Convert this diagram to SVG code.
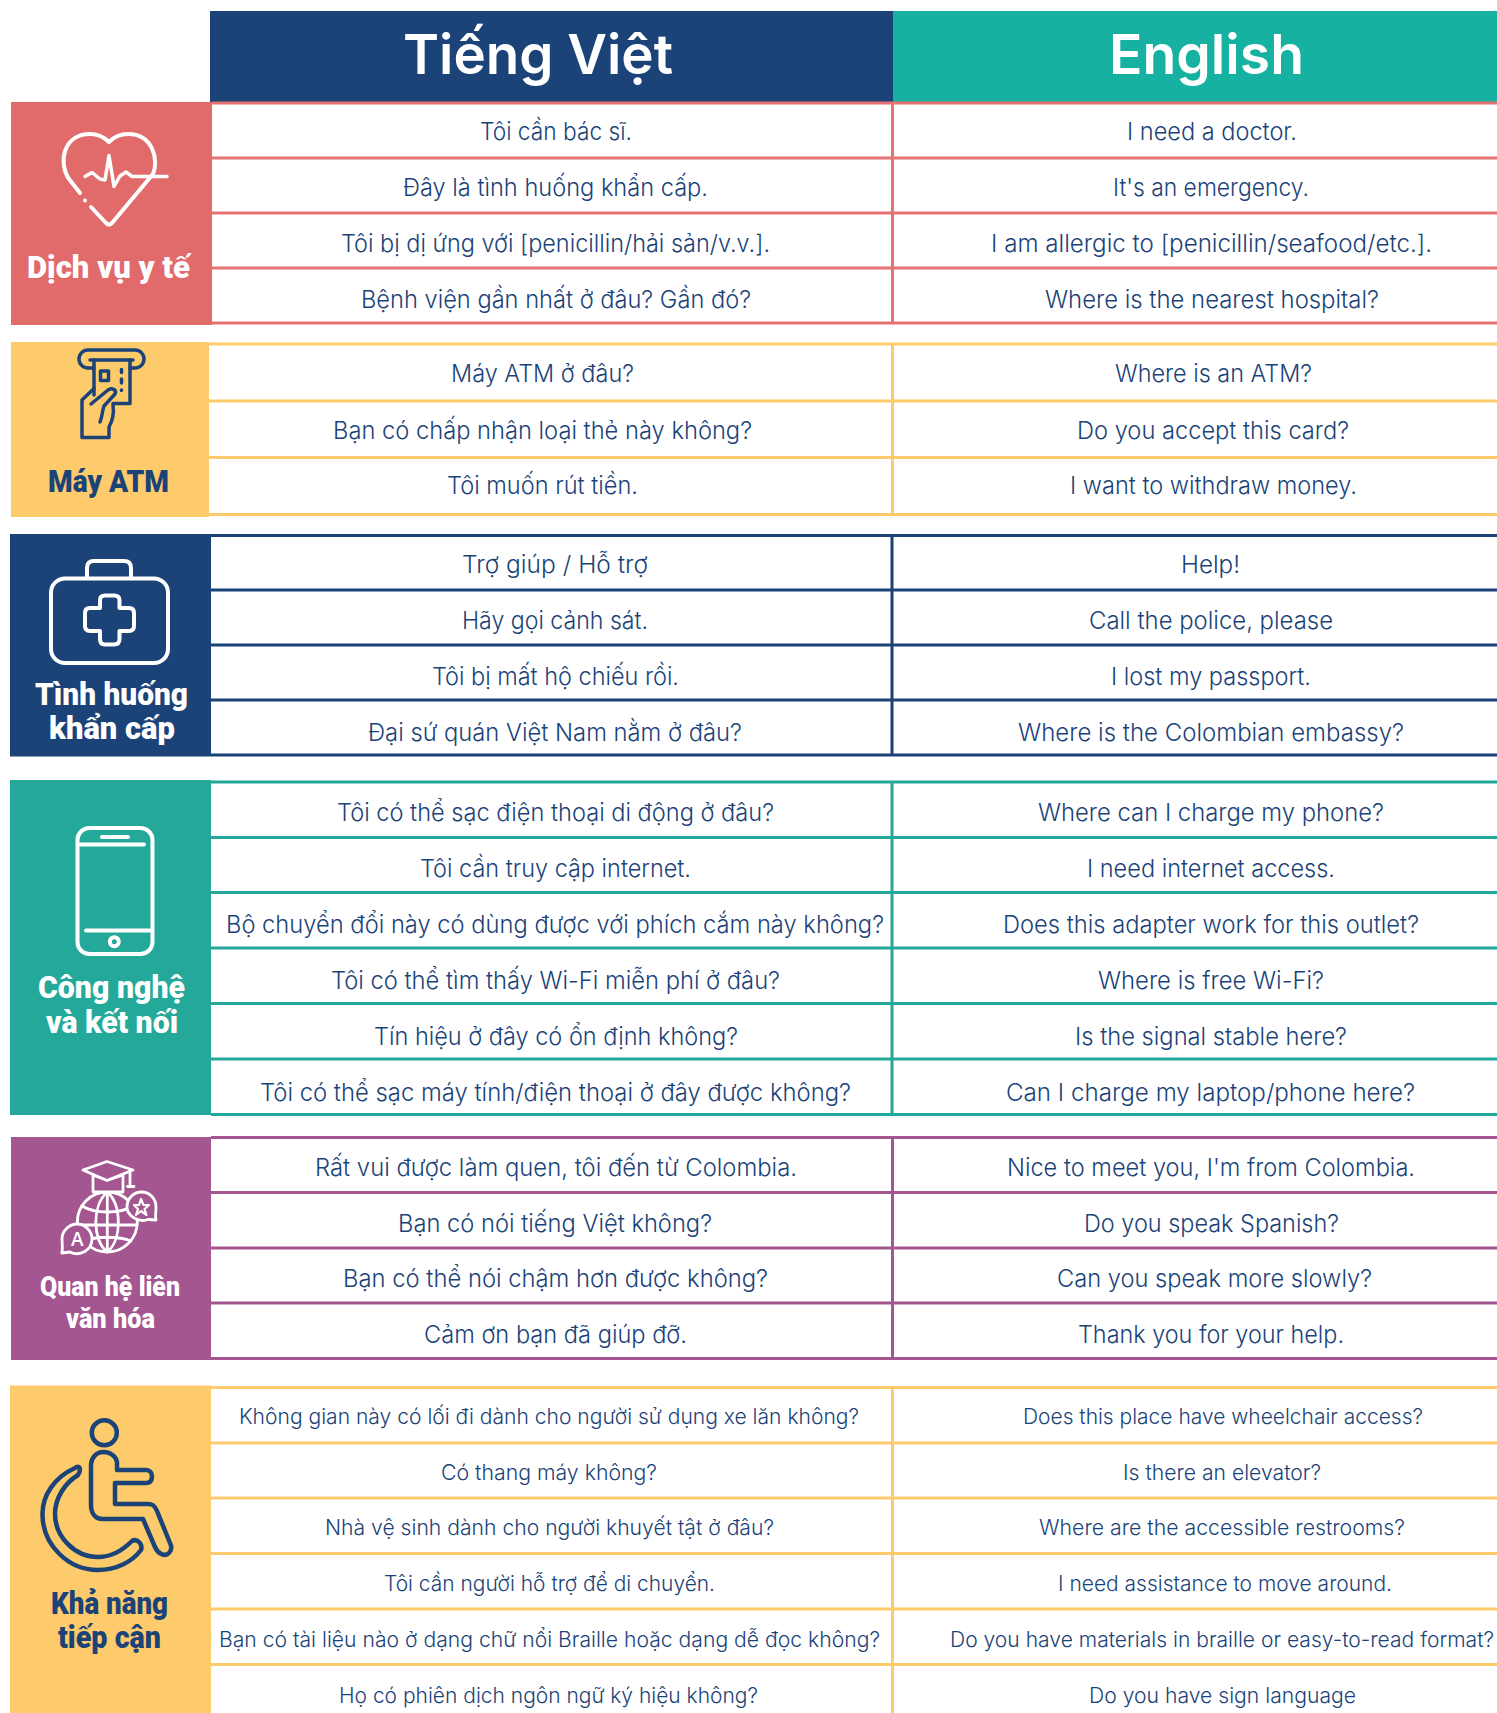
<svg xmlns="http://www.w3.org/2000/svg" width="1497" height="1713" viewBox="0 0 1497 1713">
<style>
.t{font-family:"Inter","Open Sans",sans-serif;font-size:24px;font-weight:300;fill:#1B4378}
.s{font-size:21.500px}
.h{font-family:"Inter","Open Sans",sans-serif;font-size:55px;font-weight:600;fill:#fff}
.l{font-family:"Roboto","Noto Sans",sans-serif;font-size:31px;font-weight:900;fill:#fff}
.g{fill:none;stroke-width:3}
.w{fill:none;stroke:#fff;stroke-width:4;stroke-linecap:round;stroke-linejoin:round}
.n{fill:none;stroke:#1B4378;stroke-width:3.500;stroke-linecap:round;stroke-linejoin:round}
</style>
<rect width="1497" height="1713" fill="#fff"/>
<g id="header">
<rect x="210" y="11" width="683" height="91" fill="#1B4378"/>
<rect x="893" y="11" width="604" height="91" fill="#16B1A1"/>
<text class="h" x="403" y="74" textLength="270" lengthAdjust="spacingAndGlyphs">Tiếng Việt</text>
<text class="h" x="1109" y="74" textLength="195" lengthAdjust="spacingAndGlyphs">English</text>
</g>
<g id="section-medical">
<rect x="11" y="102" width="201" height="223" fill="#E16A6A"/>
<path class="g" stroke="#E57373" d="M212 103H1497M212 158H1497M212 213H1497M212 268H1497M212 323H1497M892.500 103V323"/>
<g class="w">
<path d="M80 193L69 179C58 163 63 134 90 134C100 134 105 138 109 142C113 138 118 134 128 134C153 134 159 160 153 174L112 223Q109 226 106 223L91 207"/>
<path d="M85 200.500V200.500"/>
<path stroke-width="3.500" d="M85 176.500L92 172.500L100 179L105 180L109 155.500L114 186.500L120 176L126 172L132 176.500H167"/>
</g>
<text class="l" x="27" y="278" textLength="163" lengthAdjust="spacingAndGlyphs">Dịch vụ y tế</text>
<text class="t" x="480" y="139.500" textLength="152" lengthAdjust="spacingAndGlyphs">Tôi cần bác sĩ.</text>
<text class="t" x="403" y="196" textLength="305" lengthAdjust="spacingAndGlyphs">Đây là tình huống khẩn cấp.</text>
<text class="t" x="341" y="251.500" textLength="429" lengthAdjust="spacingAndGlyphs">Tôi bị dị ứng với [penicillin/hải sản/v.v.].</text>
<text class="t" x="361" y="307.500" textLength="390" lengthAdjust="spacingAndGlyphs">Bệnh viện gần nhất ở đâu? Gần đó?</text>
<text class="t" x="1127" y="139.500" textLength="170" lengthAdjust="spacingAndGlyphs">I need a doctor.</text>
<text class="t" x="1113" y="196" textLength="196" lengthAdjust="spacingAndGlyphs">It's an emergency.</text>
<text class="t" x="991" y="251.500" textLength="441" lengthAdjust="spacingAndGlyphs">I am allergic to [penicillin/seafood/etc.].</text>
<text class="t" x="1045" y="307.500" textLength="334" lengthAdjust="spacingAndGlyphs">Where is the nearest hospital?</text>
</g>
<g id="section-atm">
<rect x="11" y="342" width="198" height="175" fill="#FDCB6B"/>
<path class="g" stroke="#FDCB6B" d="M209 344H1497M209 401H1497M209 457.500H1497M209 514.500H1497M892.500 344V514.500"/>
<g class="n">
<path d="M94 368H88a9 9 0 0 1 0-18H135a9 9 0 0 1 0 18H130"/>
<path d="M90 360H133"/>
<path d="M94 360V395M130 360V403.500H113"/>
<path d="M100.500 371h8v9.500h-8z"/>
<path d="M121.500 369.500v3M121.500 379v4M121.500 390v.5"/>
<path d="M94 388.500L82 400V437.500H109V427C113 420 114 412 113 405"/>
<path d="M91 404L108 390C112 387 117 390 115 394L104 406C102 412 102 418 100 422"/>
</g>
<text class="l" style="fill:#1B4378" x="48" y="491.500" textLength="121" lengthAdjust="spacingAndGlyphs">Máy ATM</text>
<text class="t" x="451" y="382" textLength="183" lengthAdjust="spacingAndGlyphs">Máy ATM ở đâu?</text>
<text class="t" x="333" y="438.500" textLength="419" lengthAdjust="spacingAndGlyphs">Bạn có chấp nhận loại thẻ này không?</text>
<text class="t" x="447" y="494" textLength="191" lengthAdjust="spacingAndGlyphs">Tôi muốn rút tiền.</text>
<text class="t" x="1115" y="382" textLength="197" lengthAdjust="spacingAndGlyphs">Where is an ATM?</text>
<text class="t" x="1077" y="438.500" textLength="272" lengthAdjust="spacingAndGlyphs">Do you accept this card?</text>
<text class="t" x="1070" y="494" textLength="287" lengthAdjust="spacingAndGlyphs">I want to withdraw money.</text>
</g>
<g id="section-emergency">
<rect x="10" y="534" width="201" height="222.500" fill="#1B4378"/>
<path class="g" stroke="#1B4378" d="M211 535.500H1497M211 590H1497M211 645H1497M211 700H1497M211 755H1497M892 535.500V755"/>
<g class="w">
<rect x="51" y="578.500" width="117" height="84.500" rx="14"/>
<path d="M87 578V568Q87 561 94 561H124Q131 561 131 568V578"/>
<path d="M100 608V600Q100 595.500 105 595.500H114Q119.500 595.500 119.500 600V608H129Q134 608 134 613V626Q134 631 129 631H119.500V639Q119.500 644.500 114 644.500H105Q100 644.500 100 639V631H90Q85 631 85 626V613Q85 608 90 608Z"/>
</g>
<text class="l" x="35" y="705" textLength="153" lengthAdjust="spacingAndGlyphs">Tình huống</text>
<text class="l" x="49" y="739" textLength="126" lengthAdjust="spacingAndGlyphs">khẩn cấp</text>
<text class="t" x="462" y="572.500" textLength="186" lengthAdjust="spacingAndGlyphs">Trợ giúp / Hỗ trợ</text>
<text class="t" x="462" y="629" textLength="186" lengthAdjust="spacingAndGlyphs">Hãy gọi cảnh sát.</text>
<text class="t" x="432" y="684.500" textLength="247" lengthAdjust="spacingAndGlyphs">Tôi bị mất hộ chiếu rồi.</text>
<text class="t" x="368" y="741" textLength="374" lengthAdjust="spacingAndGlyphs">Đại sứ quán Việt Nam nằm ở đâu?</text>
<text class="t" x="1181" y="572.500" textLength="59" lengthAdjust="spacingAndGlyphs">Help!</text>
<text class="t" x="1089" y="629" textLength="244" lengthAdjust="spacingAndGlyphs">Call the police, please</text>
<text class="t" x="1111" y="684.500" textLength="200" lengthAdjust="spacingAndGlyphs">I lost my passport.</text>
<text class="t" x="1018" y="741" textLength="386" lengthAdjust="spacingAndGlyphs">Where is the Colombian embassy?</text>
</g>
<g id="section-technology">
<rect x="10" y="780" width="201" height="335" fill="#24A89A"/>
<path class="g" stroke="#24A89A" d="M211 782H1497M211 837.500H1497M211 892.500H1497M211 948H1497M211 1003.500H1497M211 1059H1497M211 1114.500H1497M892 782V1114.500"/>
<g class="w">
<rect x="77.500" y="828" width="75" height="126" rx="12"/>
<path d="M80 844.500H144M102 837H128M86 930.500H150"/>
<circle cx="114.300" cy="941.700" r="4.500"/>
</g>
<text class="l" x="38" y="998" textLength="147" lengthAdjust="spacingAndGlyphs">Công nghệ</text>
<text class="l" x="46" y="1033" textLength="132" lengthAdjust="spacingAndGlyphs">và kết nối</text>
<text class="t" x="337" y="820.500" textLength="437" lengthAdjust="spacingAndGlyphs">Tôi có thể sạc điện thoại di động ở đâu?</text>
<text class="t" x="420" y="876.500" textLength="271" lengthAdjust="spacingAndGlyphs">Tôi cần truy cập internet.</text>
<text class="t" x="226" y="932.500" textLength="658" lengthAdjust="spacingAndGlyphs">Bộ chuyển đổi này có dùng được với phích cắm này không?</text>
<text class="t" x="331" y="988.500" textLength="449" lengthAdjust="spacingAndGlyphs">Tôi có thể tìm thấy Wi-Fi miễn phí ở đâu?</text>
<text class="t" x="374" y="1044.500" textLength="364" lengthAdjust="spacingAndGlyphs">Tín hiệu ở đây có ổn định không?</text>
<text class="t" x="260" y="1100.500" textLength="591" lengthAdjust="spacingAndGlyphs">Tôi có thể sạc máy tính/điện thoại ở đây được không?</text>
<text class="t" x="1038" y="820.500" textLength="346" lengthAdjust="spacingAndGlyphs">Where can I charge my phone?</text>
<text class="t" x="1087" y="876.500" textLength="248" lengthAdjust="spacingAndGlyphs">I need internet access.</text>
<text class="t" x="1003" y="932.500" textLength="416" lengthAdjust="spacingAndGlyphs">Does this adapter work for this outlet?</text>
<text class="t" x="1098" y="988.500" textLength="226" lengthAdjust="spacingAndGlyphs">Where is free Wi-Fi?</text>
<text class="t" x="1075" y="1044.500" textLength="272" lengthAdjust="spacingAndGlyphs">Is the signal stable here?</text>
<text class="t" x="1006" y="1100.500" textLength="409" lengthAdjust="spacingAndGlyphs">Can I charge my laptop/phone here?</text>
</g>
<g id="section-intercultural">
<rect x="11" y="1137" width="200" height="223" fill="#A45691"/>
<path class="g" stroke="#A45691" d="M211 1137.500H1497M211 1192.500H1497M211 1248H1497M211 1303H1497M211 1358.500H1497M892.500 1137.500V1358.500"/>
<g class="w" style="stroke-width:2.800">
<circle cx="107.300" cy="1222" r="30"/>
<path d="M107.300 1192V1252M107.300 1192C92 1205 92 1240 107.300 1252M107.300 1192C122 1205 122 1240 107.300 1252M82 1206C95 1214 120 1214 133 1206M77.500 1225H137M84 1241C95 1236 120 1236 131 1241"/>
<path fill="#A45691" d="M83 1170L107 1161.500L133 1170L107 1180.500Z"/>
<path fill="#A45691" d="M93 1175V1192H123V1175L107 1180.500Z"/>
<path d="M130 1171V1184M127.500 1186.500H134"/>
<path fill="#A45691" d="M141.700 1192C150 1192 156 1199 156 1207C156 1212 155 1216 156 1220L148 1219.500C139 1223 127 1216 127 1207C127 1199 133 1192 141.700 1192Z"/>
<path stroke-width="2.200" d="M141 1199L143.500 1205H149L144.500 1209L146.500 1215L141 1211L136 1215L138 1209L134 1205H139Z"/>
<path fill="#A45691" d="M77.300 1224C69 1224 62 1231 62 1239C62 1244 63 1249 61.700 1253L70 1252C80 1257 92 1250 92 1239C92 1231 85 1224 77.300 1224Z"/>
</g>
<text x="77.300" y="1246" text-anchor="middle" style="font-family:'Open Sans',sans-serif;font-size:19px;font-weight:600;fill:#fff">A</text>
<text class="l" style="font-size:28px" x="40" y="1296" textLength="140" lengthAdjust="spacingAndGlyphs">Quan hệ liên</text>
<text class="l" style="font-size:28px" x="66" y="1328" textLength="89" lengthAdjust="spacingAndGlyphs">văn hóa</text>
<text class="t" x="315" y="1175.500" textLength="482" lengthAdjust="spacingAndGlyphs">Rất vui được làm quen, tôi đến từ Colombia.</text>
<text class="t" x="398" y="1231.500" textLength="314" lengthAdjust="spacingAndGlyphs">Bạn có nói tiếng Việt không?</text>
<text class="t" x="343" y="1287" textLength="425" lengthAdjust="spacingAndGlyphs">Bạn có thể nói chậm hơn được không?</text>
<text class="t" x="424" y="1343" textLength="263" lengthAdjust="spacingAndGlyphs">Cảm ơn bạn đã giúp đỡ.</text>
<text class="t" x="1007" y="1175.500" textLength="408" lengthAdjust="spacingAndGlyphs">Nice to meet you, I'm from Colombia.</text>
<text class="t" x="1084" y="1231.500" textLength="255" lengthAdjust="spacingAndGlyphs">Do you speak Spanish?</text>
<text class="t" x="1057" y="1287" textLength="315" lengthAdjust="spacingAndGlyphs">Can you speak more slowly?</text>
<text class="t" x="1078" y="1343" textLength="266" lengthAdjust="spacingAndGlyphs">Thank you for your help.</text>
</g>
<g id="section-accessibility">
<rect x="10" y="1385.500" width="201" height="327.500" fill="#FDCB6B"/>
<path class="g" stroke="#FDCB6B" d="M211 1387.500H1497M211 1443H1497M211 1498H1497M211 1553.500H1497M211 1609H1497M211 1664.500H1497M892.500 1387.500V1713"/>
<g class="n" style="stroke-width:4.500">
<circle cx="104.300" cy="1432.800" r="12.500"/>
<path d="M103.300 1452C96 1452 91 1458 91 1466V1505C91 1513 95 1519 103 1519H143L155 1547C158 1554 165 1557 169 1553C172 1550 172 1547 170 1543L157 1511C155 1506 153 1504 148 1504H115V1483H146C151 1483 152 1480 152 1476.500C152 1473 150 1470 146 1470H117V1462C116 1456 110 1452 103.300 1452Z"/>
<path d="M75 1468C55 1477 42 1495 42.500 1515C43 1545 68 1570 98 1570C116 1570 132 1562 141 1550C143 1544 137 1538 132 1541C122 1551 111 1557 98 1557C75 1557 55 1537 55 1514C55 1498 65 1483 78 1475C82 1468 79 1465 75 1468Z"/>
</g>
<text class="l" style="fill:#1B4378" x="51" y="1613.500" textLength="117" lengthAdjust="spacingAndGlyphs">Khả năng</text>
<text class="l" style="fill:#1B4378" x="58" y="1647.500" textLength="103" lengthAdjust="spacingAndGlyphs">tiếp cận</text>
<text class="t s" x="239" y="1423.500" textLength="620" lengthAdjust="spacingAndGlyphs">Không gian này có lối đi dành cho người sử dụng xe lăn không?</text>
<text class="t s" x="441" y="1479.500" textLength="216" lengthAdjust="spacingAndGlyphs">Có thang máy không?</text>
<text class="t s" x="325" y="1535" textLength="449" lengthAdjust="spacingAndGlyphs">Nhà vệ sinh dành cho người khuyết tật ở đâu?</text>
<text class="t s" x="384" y="1591" textLength="331" lengthAdjust="spacingAndGlyphs">Tôi cần người hỗ trợ để di chuyển.</text>
<text class="t s" x="219" y="1647" textLength="661" lengthAdjust="spacingAndGlyphs">Bạn có tài liệu nào ở dạng chữ nổi Braille hoặc dạng dễ đọc không?</text>
<text class="t s" x="339" y="1703" textLength="419" lengthAdjust="spacingAndGlyphs">Họ có phiên dịch ngôn ngữ ký hiệu không?</text>
<text class="t s" x="1023" y="1423.500" textLength="400" lengthAdjust="spacingAndGlyphs">Does this place have wheelchair access?</text>
<text class="t s" x="1123" y="1479.500" textLength="198" lengthAdjust="spacingAndGlyphs">Is there an elevator?</text>
<text class="t s" x="1039" y="1535" textLength="366" lengthAdjust="spacingAndGlyphs">Where are the accessible restrooms?</text>
<text class="t s" x="1058" y="1591" textLength="334" lengthAdjust="spacingAndGlyphs">I need assistance to move around.</text>
<text class="t s" x="950" y="1647" textLength="544" lengthAdjust="spacingAndGlyphs">Do you have materials in braille or easy-to-read format?</text>
<text class="t s" x="1089" y="1703" textLength="267" lengthAdjust="spacingAndGlyphs">Do you have sign language</text>
</g>
</svg>
